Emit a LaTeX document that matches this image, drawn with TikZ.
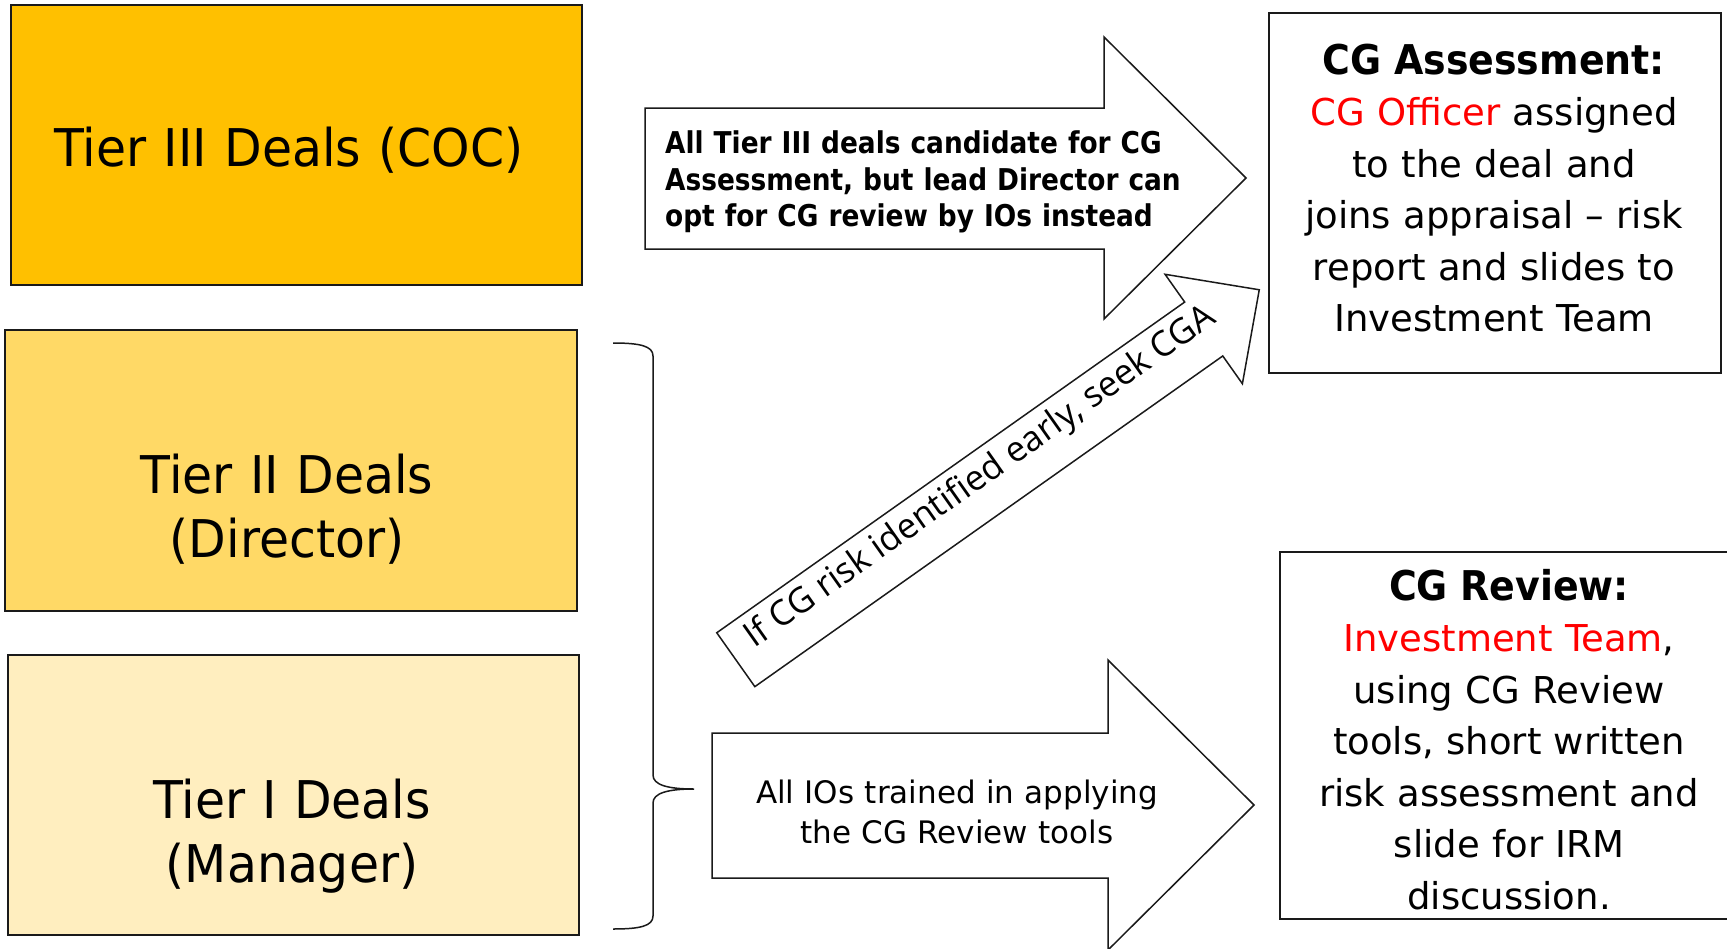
\documentclass[tikz,border=0pt]{standalone}
\usepackage{fontspec}
\setmainfont{DejaVu Sans}
\newfontfamily\fbig[FakeStretch=0.94]{DejaVu Sans}
\newfontfamily\ftitle[FakeStretch=0.925]{DejaVu Sans}
\newfontfamily\farrow[FakeStretch=0.88]{DejaVu Sans}
\newfontfamily\fdiag{Open Sans}
\definecolor{tierthree}{HTML}{FFC000}
\definecolor{tiertwo}{HTML}{FFD966}
\definecolor{tierone}{HTML}{FFEEBF}
\definecolor{hired}{HTML}{FF0000}
\definecolor{edge}{HTML}{1A1A1A}
\begin{document}
\begin{tikzpicture}[x=1pt,y=-1pt,
  tierbox/.style={draw=edge, line width=1.6pt, inner sep=0pt},
  whitebox/.style={draw=edge, line width=1.6pt, fill=white, inner sep=0pt},
  arrowshape/.style={draw=edge, line width=1.5pt, fill=white, line join=miter},
  txt/.style={inner sep=0pt, anchor=base},
  bigtxt/.style={txt, font=\fbig\fontsize{52}{64}\selectfont, text width=560pt, align=center},
  bodytxt/.style={txt, font=\fontsize{37}{51.5}\selectfont, text width=460pt, align=center}]
\useasboundingbox (0,0) rectangle (1727,948);
\fill[white] (0,0) rectangle (1727,948);

% tier boxes
\node[tierbox, fill=tierthree, minimum width=571pt, minimum height=280pt] (tier3) at (296.5,145) {};
\node[tierbox, fill=tiertwo, minimum width=572pt, minimum height=281pt] (tier2) at (291,470.5) {};
\node[tierbox, fill=tierone, minimum width=571pt, minimum height=280pt] (tier1) at (293.5,795) {};
\node[bigtxt] (t3) at (289,166) {Tier III Deals (COC)};
\node[bigtxt] (t2) at (287,493) {Tier II Deals\\(Director)};
\node[bigtxt] (t1) at (292,818) {Tier I Deals\\(Manager)};

% right boxes
\node[whitebox, minimum width=452pt, minimum height=360pt] (cga) at (1495,193) {};
\node[whitebox, minimum width=460pt, minimum height=367pt] (cgr) at (1510,735.5) {};
\node[bodytxt] (cgatxt) at (1494,74) {{\ftitle\bfseries\fontsize{41}{51.5}\selectfont CG Assessment:}\\\textcolor{hired}{CG Officer} assigned\\to the deal and\\joins appraisal – risk\\report and slides to\\Investment Team};
\node[bodytxt] (cgrtxt) at (1509,600) {{\ftitle\bfseries\fontsize{41}{51.5}\selectfont CG Review:}\\\textcolor{hired}{Investment Team},\\using CG Review\\tools, short written\\risk assessment and\\slide for IRM\\discussion.};

% top arrow
\draw[arrowshape] (645,108) -- (1104,108) -- (1104,37) -- (1246,178) -- (1104,319) -- (1104,249) -- (645,249) -- cycle;
\node[txt, anchor=base west, font=\farrow\bfseries\fontsize{30}{36.7}\selectfont, text width=580pt, align=left] (toptxt) at (665,153.3) {All Tier III deals candidate for CG\\Assessment, but lead Director can\\opt for CG review by IOs instead};

% bottom arrow
\draw[arrowshape] (712,733) -- (1108,733) -- (1108,660) -- (1254,805) -- (1108,950) -- (1108,878) -- (712,878) -- cycle;
\node[txt, font=\fontsize{31}{40}\selectfont, text width=450pt, align=center] (bottxt) at (957,803) {All IOs trained in applying\\the CG Review tools};

% diagonal arrow
\begin{scope}[shift={(735.8,659.7)}, rotate=35.25]
\draw[arrowshape] (0,-33) -- (573,-33) -- (573,-67) -- (641,0) -- (573,67) -- (573,33) -- (0,33) -- cycle;
\node[txt, transform shape, font=\fdiag\fontsize{35}{42}\selectfont] (diagtxt) at (305,2) {If CG risk identified early, seek CGA};
\end{scope}

% brace
\draw[edge, line width=1.5pt] (613,343) .. controls (640,343) and (653,346) .. (653,356) -- (653,775) .. controls (653,785) and (668,789) .. (694,789) .. controls (668,789) and (653,793) .. (653,803) -- (653,916) .. controls (653,926) and (640,929) .. (613,929);
\end{tikzpicture}
\end{document}
